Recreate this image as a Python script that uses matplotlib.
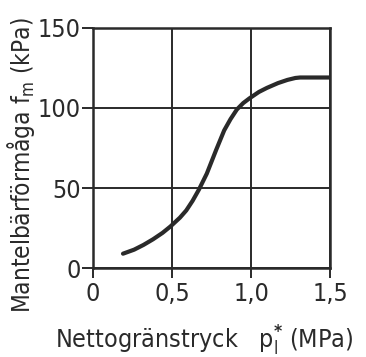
import matplotlib
matplotlib.use("Agg")
import matplotlib.pyplot as plt

plt.rcParams["font.family"] = ["DejaVu Sans"]
plt.rcParams["font.stretch"] = "condensed"
plt.rcParams["mathtext.default"] = "regular"
plt.rcParams["mathtext.fontset"] = "custom"
plt.rcParams["mathtext.rm"] = "DejaVu Sans:stretch=condensed"
plt.rcParams["mathtext.bf"] = "DejaVu Sans:bold"

# data
pressure = [0.19, 0.26, 0.32, 0.38, 0.44, 0.49, 0.55, 0.59, 0.63, 0.67, 0.72, 0.78, 0.83, 0.87, 0.91, 0.95, 0.99, 1.05, 1.1, 1.17, 1.23, 1.28, 1.31, 1.5]
capacity = [9, 11.5, 14.5, 18, 22, 26, 31.5, 36, 42, 49, 59, 74, 86, 93, 99, 103, 106, 110, 112.5, 115.5, 117.5, 118.7, 119, 119]
xticks = [0, 0.5, 1.0, 1.5]
xticklabels = ["0", "0,5", "1,0", "1,5"]
yticks = [0, 50, 100, 150]
yticklabels = ["0", "50", "100", "150"]

ink = "#2a2a2a"
fig = plt.figure(figsize=(3.66, 3.57), dpi=100)
ax = fig.add_axes([0.254, 0.249, 0.648, 0.673])
ax.plot(pressure, capacity, color=ink, lw=3, solid_capstyle="round", solid_joinstyle="round")
ax.set_xlim(0, 1.5)
ax.set_ylim(0, 150)
ax.set_xticks(xticks)
ax.set_xticklabels(xticklabels)
ax.set_yticks(yticks)
ax.set_yticklabels(yticklabels)
ax.grid(True, color=ink, lw=1.4)
for s in ax.spines.values():
    s.set_color(ink)
    s.set_linewidth(1.8)
ax.tick_params(colors=ink, labelsize=18, width=1.4)
ax.tick_params(axis="x", length=7, pad=3)
ax.tick_params(axis="y", length=8, pad=1)
ax.set_xlabel(r"Nettogränstryck   $p_l^{\mathbf{*}}$ (MPa)", fontsize=18, color=ink)
ax.set_ylabel(r"Mantelbärförmåga $f_m$ (kPa)", fontsize=17.5, color=ink)
ax.yaxis.set_label_coords(-0.235, 0.43)
ax.xaxis.set_label_coords(0.47, -0.23)
ax.xaxis.label.set_va("top")
fig.savefig("out.png", dpi=100)
